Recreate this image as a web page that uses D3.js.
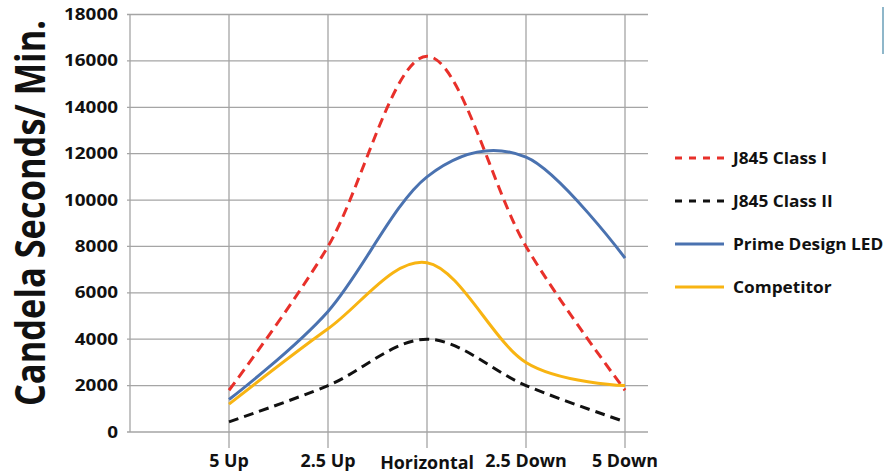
<!DOCTYPE html>
<html>
<head>
<meta charset="utf-8">
<script src="https://cdn.jsdelivr.net/npm/d3@7"></script>
<style>
  body { margin: 0; background: #fff; }
  text { font-family: "Open Sans", "Noto Sans", sans-serif; font-weight: 700; fill: #111; }
</style>
</head>
<body>
<svg id="chart" width="884" height="473"></svg>
<script>
// categories (first slot is an empty one at the y axis)
const categories = ["", "5 Up", "2.5 Up", "Horizontal", "2.5 Down", "5 Down"];
const yTicks = [0, 2000, 4000, 6000, 8000, 10000, 12000, 14000, 16000, 18000];

// series values, one per labelled category
const classOne = [1800, 8000, 16200, 8000, 1800];
const classTwo = [440, 2000, 4000, 2000, 440];
const primeLed = [1400, 5200, 11000, 11850, 7500];
const competitor = [1200, 4450, 7300, 3000, 2000];

const series = [
  {name: "J845 Class I", values: classOne, color: "#e8302a", dash: "10,6", legendDash: "7,7"},
  {name: "J845 Class II", values: classTwo, color: "#111111", dash: "10,6", legendDash: "7,7"},
  {name: "Prime Design LED", values: primeLed, color: "#4a72b0", dash: null, legendDash: null},
  {name: "Competitor", values: competitor, color: "#f8b412", dash: null, legendDash: null}
];

const svg = d3.select("#chart");
const plotLeft = 130, plotRight = 625, gridRight = 648, plotTop = 14.5, plotBottom = 432;

const x = d3.scalePoint().domain(categories).range([plotLeft, plotRight]);
const y = d3.scaleLinear().domain([0, 18000]).range([plotBottom, plotTop]);

// horizontal gridlines + tick labels
const yAxis = svg.append("g");
yAxis.selectAll("line")
  .data(yTicks)
  .join("line")
  .attr("x1", plotLeft - 3)
  .attr("x2", gridRight)
  .attr("y1", d => y(d))
  .attr("y2", d => y(d))
  .attr("stroke", "#a5a5a5")
  .attr("stroke-width", 1.3);
// the source text is a bit wide, so stretch it sideways
yAxis.selectAll("text")
  .data(yTicks)
  .join("text")
  .attr("transform", d => `translate(118, ${y(d) + 5.5}) scale(1.22, 1)`)
  .attr("text-anchor", "end")
  .attr("font-size", 15.5)
  .text(d => d);

// vertical gridlines (ticks run below axis for labelled categories)
svg.append("line")
  .attr("x1", plotLeft).attr("x2", plotLeft)
  .attr("y1", plotTop).attr("y2", plotBottom)
  .attr("stroke", "#a5a5a5").attr("stroke-width", 1.3);
svg.append("g").selectAll("line")
  .data(categories.slice(1))
  .join("line")
  .attr("x1", d => x(d))
  .attr("x2", d => x(d))
  .attr("y1", plotTop)
  .attr("y2", plotBottom + 16)
  .attr("stroke", "#a5a5a5")
  .attr("stroke-width", 1.3);

// x labels
svg.append("g").selectAll("text")
  .data(categories.slice(1))
  .join("text")
  .attr("transform", d => `translate(${x(d)}, ${d === "Horizontal" ? 469 : 466.5}) scale(1.05, 1)`)
  .attr("text-anchor", "middle")
  .attr("font-size", 17)
  .text(d => d);

// y title
svg.append("text")
  .attr("transform", `translate(45, 213) rotate(-90) scale(0.82, 1)`)
  .attr("text-anchor", "middle")
  .attr("font-size", 42)
  .text("Candela Seconds/ Min.");

// lines
const line = d3.line()
  .x((d, i) => x(categories[i + 1]))
  .y(d => y(d))
  .curve(d3.curveCatmullRom.alpha(0));

svg.append("g").selectAll("path")
  .data(series)
  .join("path")
  .attr("d", d => line(d.values))
  .attr("fill", "none")
  .attr("stroke", d => d.color)
  .attr("stroke-width", 3)
  .attr("stroke-dasharray", d => d.dash);

// legend
const legend = svg.append("g").selectAll("g")
  .data(series)
  .join("g")
  .attr("transform", (d, i) => `translate(675, ${158 + i * 43})`);
legend.append("line")
  .attr("x1", 0).attr("x2", 49)
  .attr("stroke", d => d.color)
  .attr("stroke-width", 3)
  .attr("stroke-dasharray", d => d.legendDash);
legend.append("text")
  .attr("transform", "translate(58, 6) scale(1.08, 1)")
  .attr("font-size", 16)
  .text(d => d.name);

// edge mark at right
svg.append("line")
  .attr("x1", 883).attr("x2", 883)
  .attr("y1", 7).attr("y2", 54)
  .attr("stroke", "#6a9fb8")
  .attr("stroke-width", 1.5);
</script>
</body>
</html>
